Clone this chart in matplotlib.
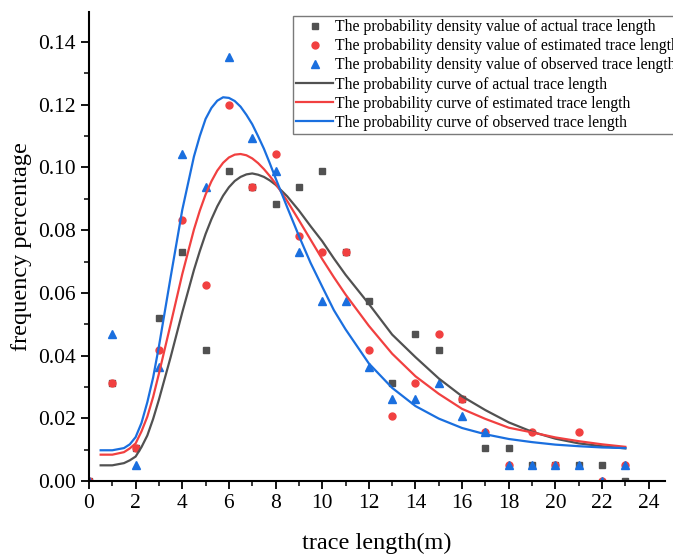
import matplotlib
matplotlib.use("Agg")
import matplotlib.pyplot as plt
from matplotlib.ticker import MultipleLocator, FormatStrFormatter

plt.rcParams['font.family'] = ['Liberation Serif', 'DejaVu Serif']

# ---- data (probability density values) ----
x_pts = list(range(0, 24))
actual_pts = [0.0, 0.0313, 0.0104, 0.0521, 0.0729, 0.0417, 0.0990, 0.0938, 0.0885, 0.0938,
              0.0990, 0.0729, 0.0573, 0.0313, 0.0469, 0.0417, 0.0260, 0.0104, 0.0104, 0.0052,
              0.0052, 0.0052, 0.0052, 0.0]
estimated_pts = [0.0, 0.0313, 0.0104, 0.0417, 0.0833, 0.0625, 0.1198, 0.0938, 0.1042, 0.0781,
                 0.0729, 0.0729, 0.0417, 0.0208, 0.0313, 0.0469, 0.0260, 0.0156, 0.0052, 0.0156,
                 0.0052, 0.0156, 0.0, 0.0052]
observed_pts = [0.0, 0.0469, 0.0052, 0.0365, 0.1042, 0.0938, 0.1354, 0.1094, 0.0990, 0.0729,
                0.0573, 0.0573, 0.0365, 0.0260, 0.0260, 0.0313, 0.0208, 0.0156, 0.0052, 0.0052,
                0.0052, 0.0052, 0.0, 0.0052]

# ---- fitted probability curves ----
x_curve = [0.5, 1.0, 1.5, 1.75, 2.0, 2.25, 2.5, 2.75, 3.0, 3.5, 4.0, 4.5, 4.75, 5.0, 5.25,
           5.5, 5.75, 6.0, 6.25, 6.5, 6.75, 7.0, 7.25, 7.5, 7.75, 8.0,
           8.5, 9.0, 9.5, 10.0, 10.5, 11.0, 12.0, 13.0, 14.0, 15.0, 16.0, 17.0, 18.0, 19.0,
           20.0, 21.0, 22.0, 23.0]
actual_curve = [0.0050, 0.0050, 0.0057, 0.0066, 0.0078, 0.0108, 0.0145, 0.0198, 0.0260, 0.0395,
                0.0538, 0.0673, 0.0733, 0.0788, 0.0835,
                0.0876, 0.0910, 0.0937, 0.0957, 0.0970, 0.0978, 0.0981, 0.0977, 0.0970, 0.0959,
                0.0945,
                0.0908, 0.0863, 0.0813, 0.0765, 0.0710, 0.0658, 0.0565, 0.0467, 0.0395, 0.0327,
                0.0270, 0.0226, 0.0187, 0.0157, 0.0135, 0.0120, 0.0111, 0.0104]
estimated_curve = [0.0084, 0.0084, 0.0092, 0.0104, 0.0120, 0.0158, 0.0205, 0.0268, 0.0343, 0.0500,
                   0.0660, 0.0802, 0.0862, 0.0914, 0.0956,
                   0.0990, 0.1015, 0.1032, 0.1041, 0.1043, 0.1039, 0.1029, 0.1014, 0.0995, 0.0973,
                   0.0949,
                   0.0893, 0.0832, 0.0770, 0.0708, 0.0650, 0.0595, 0.0495, 0.0406, 0.0334, 0.0278,
                   0.0230, 0.0198, 0.0170, 0.0155, 0.0139, 0.0127, 0.0117, 0.0109]
observed_curve = [0.0098, 0.0098, 0.0105, 0.0117, 0.0140, 0.0185, 0.0251, 0.0330, 0.0430, 0.0650,
                  0.0865, 0.1035, 0.1100, 0.1155, 0.1190,
                  0.1213, 0.1224, 0.1222, 0.1212, 0.1194, 0.1168, 0.1138, 0.1100, 0.1060, 0.1014,
                  0.0966,
                  0.0873, 0.0782, 0.0696, 0.0620, 0.0545, 0.0484, 0.0375, 0.0297, 0.0239, 0.0199,
                  0.0169, 0.0149, 0.0134, 0.0124, 0.0116, 0.0111, 0.0107, 0.0105]

labels_pts = ["The probability density value of actual trace length",
              "The probability density value of estimated trace length",
              "The probability density value of observed trace length"]
labels_curve = ["The probability curve of actual trace length",
                "The probability curve of estimated trace length",
                "The probability curve of observed trace length"]

c_black = '#515151'
c_red = '#F14040'
c_blue = '#1A6FDF'

fig = plt.figure(figsize=(6.73, 5.58), dpi=100)
ax = fig.add_axes([89/673, 1-481/558, (665-89)/673, (481-12)/558])

h1, = ax.plot(x_pts, actual_pts, 's', color=c_black, ms=4.5, ls='none', label=labels_pts[0])
h2, = ax.plot(x_pts, estimated_pts, 'o', color=c_red, ms=5, ls='none', label=labels_pts[1])
h3, = ax.plot(x_pts, observed_pts, '^', color=c_blue, ms=5.5, ls='none', label=labels_pts[2])
l1, = ax.plot(x_curve, actual_curve, '-', color=c_black, lw=1.6, label=labels_curve[0])
l2, = ax.plot(x_curve, estimated_curve, '-', color=c_red, lw=1.6, label=labels_curve[1])
l3, = ax.plot(x_curve, observed_curve, '-', color=c_blue, lw=1.6, label=labels_curve[2])

ax.set_xlim(0, 24.7)
ax.set_ylim(0, 0.1496)
ax.xaxis.set_major_locator(MultipleLocator(2))
ax.xaxis.set_minor_locator(MultipleLocator(1))
ax.yaxis.set_major_locator(MultipleLocator(0.02))
ax.yaxis.set_minor_locator(MultipleLocator(0.01))
ax.yaxis.set_major_formatter(FormatStrFormatter('%.2f'))

for s in ['top', 'right']:
    ax.spines[s].set_visible(False)
for s in ['left', 'bottom']:
    ax.spines[s].set_linewidth(1.5)
ax.tick_params(which='major', direction='out', length=6, width=1.3, labelsize=15.5)
ax.tick_params(which='minor', direction='out', length=3.5, width=1.1)

ax.set_xlabel('trace length(m)', fontsize=17.5, labelpad=14)
ax.set_ylabel('frequency percentage', fontsize=17.5, labelpad=4)

leg = fig.legend(handles=[h1, h2, h3, l1, l2, l3], loc='upper left',
                 bbox_to_anchor=(293/673, 1-16/558), bbox_transform=fig.transFigure,
                 fontsize=11.3, frameon=True, fancybox=False, framealpha=1,
                 edgecolor='#7a7a7a', handlelength=2.35, handletextpad=0.15,
                 labelspacing=0.2, borderpad=0.2, borderaxespad=0)
leg.get_frame().set_linewidth(1.0)

fig.savefig('out.png', dpi=100)
